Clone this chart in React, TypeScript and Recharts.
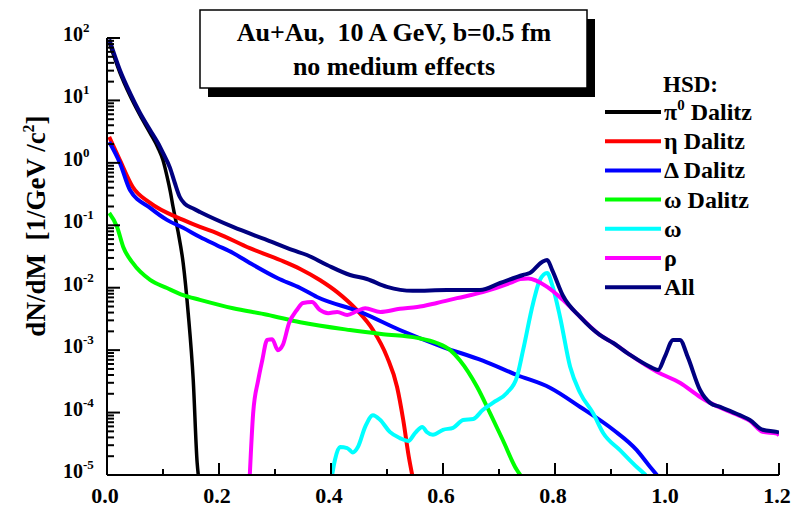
import React from 'react';
import { LineChart, Line, XAxis, YAxis } from 'recharts';

const FONT = '"Liberation Serif", "Times New Roman", serif';

// [invariant mass M (GeV/c^2), dN/dM]
const pi0Dalitz: [number, number][] = [
  [0.004, 85], [0.023, 28], [0.041, 12], [0.059, 5.8], [0.077, 3.0], [0.091, 1.75], [0.1, 1.1],
  [0.107, 0.62], [0.113, 0.35], [0.118, 0.196], [0.127, 0.078], [0.136, 0.0249], [0.145, 0.0039],
  [0.154, 3.3e-4], [0.161, 1.56e-5], [0.163, 1e-5],
];
const etaDalitz: [number, number][] = [
  [0.004, 2.6], [0.023, 1.11], [0.046, 0.41], [0.077, 0.228], [0.136, 0.122], [0.166, 0.094],
  [0.196, 0.075], [0.255, 0.043], [0.309, 0.0278], [0.345, 0.02], [0.38, 0.0133], [0.411, 0.0085],
  [0.446, 0.0044], [0.475, 0.0021], [0.5, 7.8e-4], [0.518, 2.57e-4], [0.529, 7.6e-5], [0.539, 1.94e-5],
  [0.545, 1e-5],
];
const deltaDalitz: [number, number][] = [
  [0.004, 2.16], [0.023, 1.0], [0.041, 0.367], [0.077, 0.19], [0.107, 0.122], [0.136, 0.091],
  [0.166, 0.065], [0.196, 0.048], [0.225, 0.036], [0.255, 0.0249], [0.304, 0.0143], [0.345, 0.0099],
  [0.375, 0.0071], [0.452, 0.0041], [0.523, 0.0021], [0.6, 0.00112], [0.671, 6.8e-4], [0.732, 4.0e-4],
  [0.791, 2.5e-4], [0.845, 1.23e-4], [0.904, 5.3e-5], [0.946, 2.5e-5], [0.97, 1.34e-5], [0.982, 1e-5],
];
const omegaDalitz: [number, number][] = [
  [0.004, 0.157], [0.018, 0.094], [0.029, 0.045], [0.046, 0.0249], [0.077, 0.0133], [0.107, 0.0099],
  [0.136, 0.0076], [0.166, 0.0064], [0.225, 0.0047], [0.286, 0.0037], [0.345, 0.0028], [0.434, 0.0021],
  [0.493, 0.0018], [0.554, 0.00157], [0.589, 0.0013], [0.613, 0.001], [0.63, 6.9e-4], [0.661, 2.57e-4],
  [0.684, 9.8e-5], [0.707, 3.6e-5], [0.732, 1.2e-5], [0.738, 1e-5],
];
const omegaDirect: [number, number][] = [
  [0.402, 1e-5], [0.407, 1.74e-5], [0.416, 2.8e-5], [0.429, 2.7e-5], [0.439, 2.3e-5], [0.448, 2.8e-5],
  [0.461, 5.9e-5], [0.475, 9.1e-5], [0.488, 7.6e-5], [0.505, 4.9e-5], [0.523, 3.9e-5], [0.538, 3.5e-5],
  [0.55, 4.7e-5], [0.563, 5.9e-5], [0.571, 4.9e-5], [0.582, 4.4e-5], [0.6, 5.3e-5], [0.618, 5.7e-5],
  [0.636, 7.6e-5], [0.654, 7.9e-5], [0.671, 1.1e-4], [0.689, 1.43e-4], [0.714, 2.06e-4], [0.732, 3.7e-4],
  [0.743, 1.0e-3], [0.761, 5.7e-3], [0.773, 0.0133], [0.786, 0.0172], [0.796, 0.0103], [0.809, 0.0034],
  [0.827, 5.4e-4], [0.845, 2.06e-4], [0.868, 9.8e-5], [0.886, 4.7e-5], [0.916, 2.5e-5], [0.946, 1.34e-5],
  [0.962, 1e-5],
];
const rho: [number, number][] = [
  [0.255, 1e-5], [0.261, 9.8e-5], [0.27, 3.3e-4], [0.277, 6.7e-4], [0.286, 1.46e-3], [0.295, 1.5e-3],
  [0.305, 1.0e-3], [0.314, 1.21e-3], [0.325, 2.7e-3], [0.339, 4.4e-3], [0.35, 5.7e-3], [0.366, 5.9e-3],
  [0.38, 4.4e-3], [0.395, 3.9e-3], [0.411, 4.1e-3], [0.429, 3.65e-3], [0.446, 4.2e-3], [0.461, 4.7e-3],
  [0.488, 4.1e-3], [0.523, 4.6e-3], [0.554, 4.9e-3], [0.589, 5.7e-3], [0.625, 6.8e-3], [0.671, 8.5e-3],
  [0.72, 0.0119], [0.738, 0.0138], [0.752, 0.014], [0.786, 0.0103], [0.814, 0.0064], [0.845, 0.0034],
  [0.88, 0.00175], [0.904, 0.0013], [0.934, 0.00084], [0.982, 4.5e-4], [1.023, 3.0e-4], [1.059, 1.78e-4],
  [1.077, 1.43e-4], [1.095, 1.2e-4], [1.13, 8.8e-5], [1.148, 7.4e-5], [1.171, 4.9e-5], [1.196, 4.6e-5],
  [1.2, 4.3e-5],
];
const all: [number, number][] = [
  [0.004, 95], [0.023, 30.7], [0.041, 13.2], [0.059, 6.3], [0.077, 3.36], [0.091, 2.08], [0.1, 1.44],
  [0.1125, 0.83], [0.121, 0.48], [0.13, 0.284], [0.139, 0.22], [0.154, 0.185], [0.166, 0.163],
  [0.225, 0.094], [0.286, 0.058], [0.332, 0.04], [0.357, 0.0334], [0.393, 0.0231], [0.434, 0.016],
  [0.464, 0.0138], [0.5, 0.0103], [0.546, 0.0089], [0.607, 0.0092], [0.666, 0.0092], [0.702, 0.0119],
  [0.743, 0.016], [0.755, 0.0172], [0.777, 0.0258], [0.786, 0.0278], [0.795, 0.0192], [0.814, 0.0075],
  [0.845, 0.0034], [0.88, 0.00175], [0.904, 0.0013], [0.934, 0.00084], [0.97, 0.00054], [0.984, 0.00048],
  [0.996, 0.00078], [1.011, 0.00146], [1.023, 0.00146], [1.037, 0.00078], [1.059, 0.00023],
  [1.077, 1.43e-4], [1.095, 1.23e-4], [1.13, 9.1e-5], [1.148, 7.6e-5], [1.171, 5.3e-5], [1.196, 4.9e-5],
  [1.2, 4.8e-5],
];

const xTicks = [0, 0.1, 0.2, 0.3, 0.4, 0.5, 0.6, 0.7, 0.8, 0.9, 1.0, 1.1, 1.2];
const decades = [-5, -4, -3, -2, -1, 0, 1, 2];
const yTicks: number[] = [];
decades.forEach((e) => {
  yTicks.push(Math.pow(10, e));
  if (e < 2) for (let k = 2; k <= 9; k++) yTicks.push(k * Math.pow(10, e));
});

const series = [
  { name: 'pi0', label: 'π', sup: '0', rest: ' Dalitz', color: '#000000', data: pi0Dalitz, w: 3.5 },
  { name: 'eta', label: 'η Dalitz', color: '#ff0000', data: etaDalitz, w: 4 },
  { name: 'delta', label: 'Δ Dalitz', color: '#0000ff', data: deltaDalitz, w: 4 },
  { name: 'omegaD', label: 'ω Dalitz', color: '#00ff00', data: omegaDalitz, w: 4 },
  { name: 'omega', label: 'ω', color: '#00ffff', data: omegaDirect, w: 4 },
  { name: 'rho', label: 'ρ', color: '#ff00ff', data: rho, w: 4 },
  { name: 'all', label: 'All', color: '#000080', data: all, w: 4 },
];

const toRows = (arr: [number, number][]) => arr.map(([x, y]) => ({ x, y }));

const isMajorX = (v: number) => Math.round(v * 10) % 2 === 0;
const decadeOf = (v: number) => {
  const lg = Math.log10(v);
  const e = Math.round(lg);
  return { e, major: Math.abs(lg - e) < 1e-6 };
};

const XTickBottom = (props: any) => {
  const { x, y, payload } = props;
  const v = payload.value;
  const major = isMajorX(v);
  return (
    <g>
      <line x1={x} y1={y} x2={x} y2={y - (major ? 12 : 6)} stroke="#000" strokeWidth={2} />
      {major && (
        <text x={x - 2} y={y + 28} textAnchor="middle" fontFamily={FONT} fontWeight="bold" fontSize={22} fill="#000">
          {v.toFixed(1)}
        </text>
      )}
    </g>
  );
};

const XTickTop = (props: any) => {
  const { x, y, payload } = props;
  const major = isMajorX(payload.value);
  return <line x1={x} y1={y} x2={x} y2={y + (major ? 12 : 6)} stroke="#000" strokeWidth={2} />;
};

const YTickLeft = (props: any) => {
  const { x, y, payload } = props;
  const { e, major } = decadeOf(payload.value);
  return (
    <g>
      <line x1={x} y1={y} x2={x + (major ? 13 : 7)} y2={y} stroke="#000" strokeWidth={2} />
      {major && (
        <text x={63} y={y + 3} fontFamily={FONT} fontWeight="bold" fontSize={20} fill="#000">
          10
          <tspan dy={-9} fontSize={13}>{String(e)}</tspan>
        </text>
      )}
    </g>
  );
};

const YTickRight = (props: any) => {
  const { x, y, payload } = props;
  const { major } = decadeOf(payload.value);
  return <line x1={x} y1={y} x2={x - (major ? 13 : 7)} y2={y} stroke="#000" strokeWidth={2} />;
};

const axisLine = { stroke: '#000', strokeWidth: 2 };

export default function App() {
  return (
    <div style={{ position: 'absolute', left: 0, top: 0, width: 794, height: 508, background: '#fff' }}>
      <LineChart width={794} height={508} margin={{ top: 38, right: 15, bottom: 0, left: 0 }}>
        <XAxis
          dataKey="x"
          type="number"
          domain={[0, 1.2]}
          ticks={xTicks}
          interval={0}
          allowDataOverflow
          height={33}
          tickLine={false}
          tickSize={0}
          tickMargin={0}
          axisLine={axisLine}
          tick={<XTickBottom />}
        />
        <XAxis
          xAxisId="top"
          orientation="top"
          dataKey="x"
          type="number"
          domain={[0, 1.2]}
          ticks={xTicks}
          interval={0}
          allowDataOverflow
          height={0}
          tickLine={false}
          tickSize={0}
          tickMargin={0}
          axisLine={axisLine}
          tick={<XTickTop />}
        />
        <YAxis
          type="number"
          scale="log"
          domain={[1e-5, 100]}
          ticks={yTicks}
          interval={0}
          allowDataOverflow
          width={107}
          tickLine={false}
          tickSize={0}
          tickMargin={0}
          axisLine={axisLine}
          tick={<YTickLeft />}
        />
        <YAxis
          yAxisId="right"
          orientation="right"
          type="number"
          scale="log"
          domain={[1e-5, 100]}
          ticks={yTicks}
          interval={0}
          allowDataOverflow
          width={0}
          tickLine={false}
          tickSize={0}
          tickMargin={0}
          axisLine={axisLine}
          tick={<YTickRight />}
        />
        {series.map((s) => (
          <Line
            key={s.name}
            data={toRows(s.data)}
            dataKey="y"
            type="monotone"
            stroke={s.color}
            strokeWidth={s.w}
            dot={false}
            activeDot={false}
            isAnimationActive={false}
          />
        ))}
      </LineChart>
      <svg
        width={794}
        height={508}
        style={{ position: 'absolute', left: 0, top: 0, pointerEvents: 'none' }}
      >
        <rect x={208} y={19} width={387} height={78} fill="#000" />
        <rect x={200} y={10} width={387} height={78} fill="#fff" stroke="#000" strokeWidth={1.5} />
        <text x={394} y={41} textAnchor="middle" fontFamily={FONT} fontWeight="bold" fontSize={26} fill="#000" style={{ whiteSpace: 'pre' }}>
          {'Au+Au,  10 A GeV, b=0.5 fm'}
        </text>
        <text x={394} y={75} textAnchor="middle" fontFamily={FONT} fontWeight="bold" fontSize={26} fill="#000">
          no medium effects
        </text>
        <text
          transform="translate(45,226) rotate(-90)"
          textAnchor="middle"
          fontFamily={FONT}
          fontWeight="bold"
          fontSize={27}
          fill="#000"
          style={{ whiteSpace: 'pre' }}
        >
          {'dN/dM  [1/GeV /c'}
          <tspan dy={-11} fontSize={16}>2</tspan>
          <tspan dy={11}>]</tspan>
        </text>
        <text x={663} y={92} fontFamily={FONT} fontWeight="bold" fontSize={23} fill="#000">HSD:</text>
        {series.map((s, i) => {
          const cy = 112 + i * 29.2;
          return (
            <g key={s.name}>
              <line x1={605} y1={cy} x2={661} y2={cy} stroke={s.color} strokeWidth={4} />
              <text x={664} y={cy + 8} fontFamily={FONT} fontWeight="bold" fontSize={24} fill="#000" style={{ whiteSpace: 'pre' }}>
                {s.label}
                {s.sup ? <tspan dy={-10} fontSize={15}>{s.sup}</tspan> : null}
                {s.rest ? <tspan dy={10}>{s.rest}</tspan> : null}
              </text>
            </g>
          );
        })}
      </svg>
    </div>
  );
}
